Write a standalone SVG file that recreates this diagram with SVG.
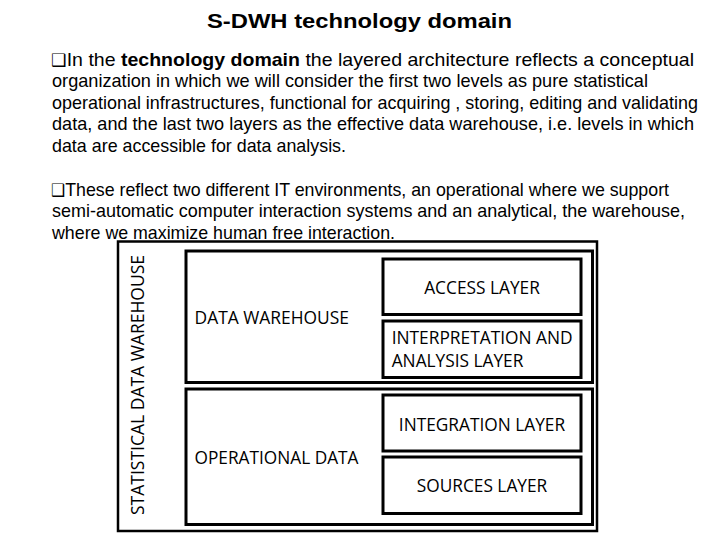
<svg xmlns="http://www.w3.org/2000/svg" width="720" height="540" viewBox="0 0 720 540">
<style>
.t{font-family:"Liberation Sans",Arial,sans-serif;fill:#000}
.title{font-size:20px;font-weight:bold}
.body{font-size:19px}
.b{font-weight:bold}
.sq{font-family:"DejaVu Sans",sans-serif;font-size:17px}
.box{fill:none;stroke:#000;stroke-width:3}
.lbl{font-family:"Open Sans","Noto Sans",sans-serif;font-size:17.3px;fill:#000}
</style>
<rect width="720" height="540" fill="#fff"/>
<g id="text-block">
<text class="t title" x="207" y="27.5" textLength="305" lengthAdjust="spacingAndGlyphs">S-DWH technology domain</text>
<text class="t body" x="51" y="65.5" textLength="643" lengthAdjust="spacingAndGlyphs"><tspan class="sq">❑</tspan>In the <tspan class="b">technology domain</tspan> the layered architecture reflects a conceptual</text>
<text class="t body" x="52" y="87" textLength="596" lengthAdjust="spacingAndGlyphs">organization in which we will consider the first two levels as pure statistical</text>
<text class="t body" x="52" y="108.5" textLength="646" lengthAdjust="spacingAndGlyphs">operational infrastructures, functional for acquiring , storing, editing and validating</text>
<text class="t body" x="52" y="130" textLength="642" lengthAdjust="spacingAndGlyphs">data,  and the last two layers as the effective data warehouse, i.e. levels in which</text>
<text class="t body" x="52" y="151.5" textLength="294" lengthAdjust="spacingAndGlyphs">data are accessible for data analysis.</text>
<text class="t body" x="51" y="195.5" textLength="618" lengthAdjust="spacingAndGlyphs"><tspan class="sq">❑</tspan>These reflect two different IT environments, an operational where we support</text>
<text class="t body" x="52" y="217" textLength="633" lengthAdjust="spacingAndGlyphs">semi-automatic computer interaction systems and an analytical, the warehouse,</text>
<text class="t body" x="52" y="238.5" textLength="343" lengthAdjust="spacingAndGlyphs">where we maximize human free interaction.</text>
</g>
<g id="statistical-data-warehouse">
<rect x="118" y="241.5" width="479" height="289.5" fill="none" stroke="#000" stroke-width="2.5"/>
<text class="lbl" transform="translate(143.5 385) rotate(-90)" text-anchor="middle" textLength="260" lengthAdjust="spacingAndGlyphs">STATISTICAL DATA WAREHOUSE</text>
</g>
<g id="data-warehouse">
<rect class="box" x="186" y="251" width="406.5" height="131.5"/>
<text class="lbl" x="194.5" y="324" textLength="154.5" lengthAdjust="spacingAndGlyphs">DATA WAREHOUSE</text>
</g>
<g id="operational-data">
<rect class="box" x="186" y="389" width="406.5" height="135.5"/>
<text class="lbl" x="194.5" y="464" textLength="164" lengthAdjust="spacingAndGlyphs">OPERATIONAL DATA</text>
</g>
<g id="access-layer">
<rect class="box" x="383" y="259" width="198" height="55.5"/>
<text class="lbl" x="482" y="293.5" text-anchor="middle">ACCESS LAYER</text>
</g>
<g id="interpretation-layer">
<rect class="box" x="383" y="321" width="198" height="56.5"/>
<text class="lbl" x="391.7" y="344.3" textLength="181" lengthAdjust="spacingAndGlyphs">INTERPRETATION AND</text>
<text class="lbl" x="391.7" y="367.3">ANALYSIS LAYER</text>
</g>
<g id="integration-layer">
<rect class="box" x="383" y="395" width="198" height="56"/>
<text class="lbl" x="482" y="431" text-anchor="middle">INTEGRATION LAYER</text>
</g>
<g id="sources-layer">
<rect class="box" x="383" y="457" width="198" height="56.5"/>
<text class="lbl" x="482" y="491.7" text-anchor="middle">SOURCES LAYER</text>
</g>
<g id="connectors"></g>
</svg>
